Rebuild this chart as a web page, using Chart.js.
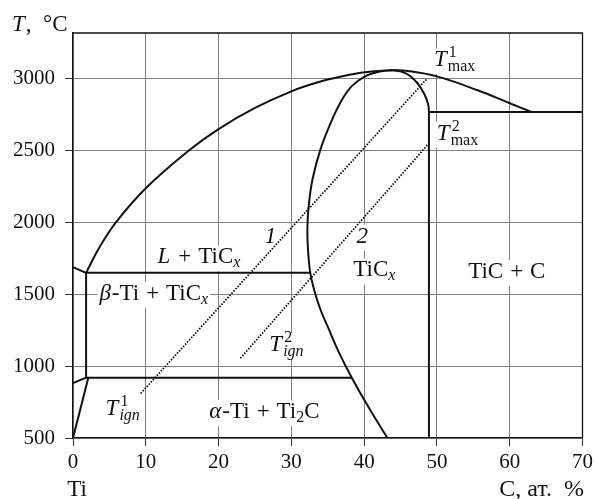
<!DOCTYPE html>
<html>
<head>
<meta charset="utf-8">
<script src="https://cdn.jsdelivr.net/npm/chart.js@4/dist/chart.umd.min.js"></script>
<style>
  html, body { margin: 0; padding: 0; background: #fff; }
  #wrap { width: 597px; height: 499px; }
</style>
</head>
<body>
<div id="wrap"><canvas id="phase" width="597" height="499"></canvas></div>
<script>
// axis ticks
const xTicks = [0, 10, 20, 30, 40, 50, 60, 70];
const tTicks = [500, 1000, 1500, 2000, 2500, 3000];

// Ti-rich corner
const betaLiqX = [0, 1.8];
const betaLiqT = [1690, 1650];
const betaSolvX = [1.8, 1.8];
const betaSolvT = [1650, 920];
const betaTransusX = [0, 1.8];
const betaTransusT = [882, 920];
const alphaSolvX = [0, 2.1];
const alphaSolvT = [500, 920];

// horizontals
const eutecticX = [1.8, 32.6];
const eutecticT = [1650, 1650];
const peritectoidX = [1.8, 38.3];
const peritectoidT = [920, 920];
const carbonEutX = [48.9, 70];
const carbonEutT = [2770, 2770];

// liquidus
const liquidusX = [1.8, 3.6, 5.9, 10, 16, 20, 25, 30, 34, 38, 41, 44, 46, 50, 55.5, 60, 63];
const liquidusT = [1650, 1825, 2002, 2239, 2505, 2651, 2798, 2914, 2982, 3029, 3052, 3060, 3056, 3018, 2923, 2831, 2770];

// TiCx boundary
const ticxX = [43.2, 40.65, 38.3, 36.5, 35.0, 33.95, 33.2, 32.6, 32.3, 32.2, 32.35, 32.9, 34.0, 35.45, 36.9, 38.3, 40.2, 42.0, 44.0, 45.8, 47.3, 48.3, 48.8, 48.9];
const ticxT = [500, 710, 920, 1100, 1275, 1400, 1520, 1650, 1800, 1950, 2100, 2300, 2510, 2700, 2850, 2950, 3020, 3050, 3060, 3037, 2972, 2892, 2822, 2770];
const ticRightX = [48.9, 48.9];
const ticRightT = [2770, 500];

// combustion paths
const path1X = [9.3, 48.7];
const path1T = [810, 3005];
const path2X = [23.0, 48.7];
const path2T = [1055, 2540];

const FAM = '"Liberation Serif", "DejaVu Serif", serif';
const BIG = 23, SMALL = 16, OP_PAD = 7;
function font(size, it) { return (it ? 'italic ' : '') + size + 'px ' + FAM; }

function pts(xs, ts) { return xs.map((x, i) => ({ x: x, y: ts[i] })); }

function line(xs, ts, curved) {
    return {
        data: pts(xs, ts),
        showLine: true,
        borderColor: '#111',
        borderWidth: 2,
        pointRadius: 0,
        tension: curved ? 0.4 : 0
    };
}
function dotted(xs, ts) {
    return {
        data: pts(xs, ts),
        showLine: true,
        borderColor: '#000',
        borderWidth: 1.7,
        borderDash: [1.5, 1.5],
        pointRadius: 0,
        tension: 0
    };
}

// text labels, anchored at centre / baseline in data units
const notes = [
    { x: 17.3, t: 1717, parts: [['L', 'i'], ['+', 'op'], ['TiC', 'r'], ['x', 'subi']] },
    { x: 11.1, t: 1463, parts: [['\u03B2', 'i'], ['-Ti', 'r'], ['+', 'op'], ['TiC', 'r'], ['x', 'subi']] },
    { x: 41.4, t: 1625, parts: [['TiC', 'r'], ['x', 'subi']] },
    { x: 27.2, t: 1860, parts: [['1', 'i']] },
    { x: 39.8, t: 1860, parts: [['2', 'i']] },
    { x: 29.4, t: 1103, parts: [['T', 'i'], { sup: '2', sub: 'ign', subIt: true }] },
    { x: 6.9, t: 662, parts: [['T', 'i'], { sup: '1', sub: 'ign', subIt: true }] },
    { x: 26.3, t: 639, parts: [['\u03B1', 'i'], ['-Ti', 'r'], ['+', 'op'], ['Ti', 'r'], ['2', 'sub'], ['C', 'r']] },
    { x: 59.6, t: 1614, parts: [['TiC', 'r'], ['+', 'op'], ['C', 'r']] },
    { x: 52.5, t: 3088, parts: [['T', 'i'], { sup: '1', sub: 'max', subIt: false }] },
    { x: 52.9, t: 2577, parts: [['T', 'i'], { sup: '2', sub: 'max', subIt: false }] }
];

function partWidth(ctx, p) {
    if (!Array.isArray(p)) {
        ctx.font = font(SMALL, false);
        const a = ctx.measureText(p.sup).width;
        ctx.font = font(SMALL, p.subIt);
        const b = ctx.measureText(p.sub).width;
        return Math.max(a, b) + 1;
    }
    const k = p[1];
    if (k === 'sub' || k === 'subi') {
        ctx.font = font(SMALL, k === 'subi');
        return ctx.measureText(p[0]).width;
    }
    ctx.font = font(BIG, k === 'i');
    const w = ctx.measureText(p[0]).width;
    if (k === 'op') return w + 2 * OP_PAD;
    return w + (k === 'i' ? 1 : 0);
}

function noteBox(ctx, n) {
    let w = 0;
    n.parts.forEach(p => { w += partWidth(ctx, p); });
    return w;
}

function drawNote(ctx, n, cx, by) {
    let x = cx - noteBox(ctx, n) / 2;
    ctx.fillStyle = '#111';
    ctx.textBaseline = 'alphabetic';
    ctx.textAlign = 'left';
    n.parts.forEach(p => {
        const w = partWidth(ctx, p);
        if (!Array.isArray(p)) {
            ctx.font = font(SMALL, false);
            ctx.fillText(p.sup, x + 1, by - 9);
            ctx.font = font(SMALL, p.subIt);
            ctx.fillText(p.sub, x, by + 5);
        } else {
            const k = p[1];
            if (k === 'sub' || k === 'subi') {
                ctx.font = font(SMALL, k === 'subi');
                ctx.fillText(p[0], x, by + 4);
            } else if (k === 'op') {
                ctx.font = font(BIG, false);
                ctx.fillText(p[0], x + OP_PAD, by);
            } else {
                ctx.font = font(BIG, k === 'i');
                ctx.fillText(p[0], x, by);
            }
        }
        x += w;
    });
}

const notesPlugin = {
    id: 'notes',
    beforeDatasetsDraw(chart) {
        const ctx = chart.ctx, xs = chart.scales.x, ys = chart.scales.y;
        ctx.save();
        ctx.fillStyle = '#fff';
        notes.forEach(n => {
            const cx = xs.getPixelForValue(n.x), by = ys.getPixelForValue(n.t);
            const w = noteBox(ctx, n);
            ctx.fillRect(cx - w / 2 - 2, by - 18, w + 4, 26);
        });
        ctx.restore();
    },
    afterDatasetsDraw(chart) {
        const ctx = chart.ctx, a = chart.chartArea, xs = chart.scales.x, ys = chart.scales.y;
        ctx.save();
        // top and right frame
        ctx.strokeStyle = '#111';
        ctx.lineWidth = 1.3;
        ctx.beginPath();
        ctx.moveTo(a.left, a.top);
        ctx.lineTo(a.right, a.top);
        ctx.lineTo(a.right, a.bottom);
        ctx.stroke();
        notes.forEach(n => {
            drawNote(ctx, n, xs.getPixelForValue(n.x), ys.getPixelForValue(n.t));
        });
        // axis titles
        ctx.fillStyle = '#111';
        ctx.textBaseline = 'alphabetic';
        ctx.textAlign = 'left';
        ctx.font = font(BIG, true);
        ctx.fillText('T', 12, 31);
        const tw = ctx.measureText('T').width;
        ctx.font = font(BIG, false);
        ctx.fillText(',  \u00B0C', 12 + tw + 1, 31);
        ctx.textAlign = 'center';
        ctx.fillText('Ti', xs.getPixelForValue(0) + 4, 496);
        ctx.textAlign = 'right';
        ctx.font = font(24, false);
        ctx.fillText('C, \u0430\u0442.  %', 584, 496);
        ctx.restore();
    }
};

const ctx = document.getElementById('phase').getContext('2d');
const phaseChart = new Chart(ctx, {
    type: 'scatter',
    data: {
        datasets: [
            line(betaLiqX, betaLiqT),
            line(betaSolvX, betaSolvT),
            line(betaTransusX, betaTransusT),
            line(alphaSolvX, alphaSolvT),
            line(eutecticX, eutecticT),
            line(peritectoidX, peritectoidT),
            line(carbonEutX, carbonEutT),
            line(liquidusX, liquidusT, true),
            line(ticxX, ticxT, true),
            line(ticRightX, ticRightT),
            dotted(path1X, path1T),
            dotted(path2X, path2T)
        ]
    },
    options: {
        responsive: false,
        animation: false,
        layout: { padding: { top: 33, right: 11, left: 0, bottom: 0 } },
        plugins: {
            legend: { display: false },
            tooltip: { enabled: false }
        },
        scales: {
            x: {
                type: 'linear',
                min: 0,
                max: 70,
                afterBuildTicks: s => { s.ticks = xTicks.map(v => ({ value: v })); },
                afterFit: s => { s.height = 61; },
                grid: { color: '#808080', lineWidth: 1, tickLength: 8, tickColor: '#333' },
                border: { color: '#111', width: 1.3 },
                ticks: { color: '#111', padding: 4, maxRotation: 0, font: { family: FAM, size: 21 },
                         callback: v => String(v) }
            },
            y: {
                type: 'linear',
                min: 500,
                max: 3320,
                afterBuildTicks: s => { s.ticks = tTicks.map(v => ({ value: v })); },
                afterFit: s => { s.width = 73; },
                grid: { color: '#808080', lineWidth: 1, tickLength: 8, tickColor: '#333' },
                border: { color: '#111', width: 1.3 },
                ticks: { color: '#111', padding: 10, font: { family: FAM, size: 21 },
                         callback: v => String(v) }
            }
        }
    },
    plugins: [notesPlugin]
});
</script>
</body>
</html>
